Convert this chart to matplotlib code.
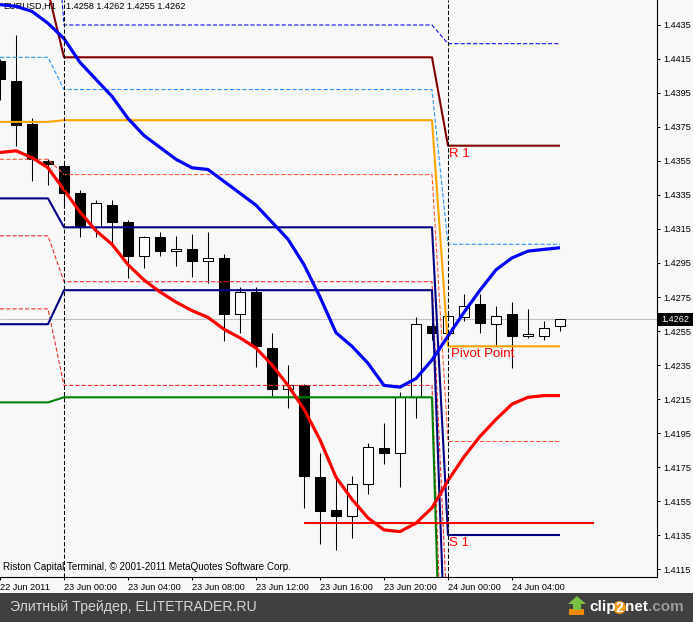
import numpy as np
import matplotlib
matplotlib.use("Agg")
import matplotlib.pyplot as plt
from matplotlib.patches import Rectangle, Polygon, Circle

plt.rcParams['font.family'] = ['Liberation Sans', 'DejaVu Sans']
plt.rcParams['lines.solid_capstyle'] = 'butt'

# ---------------- data ----------------
symbol = "EURUSD,H1"
last_ohlc = "1.4258 1.4262 1.4255 1.4262"
copyright_text = "Riston Capital Terminal, \u00a9 2001-2011 MetaQuotes Software Corp."
footer_text = "Элитный Трейдер, ELITETRADER.RU"

opens = [1.4414, 1.4402, 1.4377, 1.4355, 1.4352, 1.4336, 1.4316, 1.4329, 1.4319, 1.4299,
         1.4310, 1.4302, 1.4303, 1.4296, 1.4298, 1.4265, 1.4278, 1.4245, 1.4221, 1.4223,
         1.4169, 1.4150, 1.4146, 1.4165, 1.4186, 1.4183, 1.4216, 1.4258, 1.4254, 1.4263,
         1.4271, 1.4259, 1.4265, 1.4252, 1.4252, 1.4258]
highs = [1.4415, 1.4429, 1.4380, 1.4356, 1.4354, 1.4338, 1.4332, 1.4332, 1.4320, 1.4311,
         1.4313, 1.4311, 1.4312, 1.4313, 1.4300, 1.4281, 1.4281, 1.4254, 1.4235, 1.4224,
         1.4183, 1.4170, 1.4170, 1.4189, 1.4201, 1.4219, 1.4263, 1.4261, 1.4266, 1.4277,
         1.4277, 1.4270, 1.4272, 1.4268, 1.4261, 1.4262]
lows = [1.4391, 1.4364, 1.4343, 1.4341, 1.4328, 1.4310, 1.4310, 1.4307, 1.4286, 1.4292,
        1.4299, 1.4293, 1.4287, 1.4283, 1.4249, 1.4254, 1.4234, 1.4217, 1.4210, 1.4151,
        1.4130, 1.4126, 1.4133, 1.4159, 1.4177, 1.4163, 1.4204, 1.4250, 1.4250, 1.4261,
        1.4254, 1.4246, 1.4233, 1.4251, 1.4250, 1.4255]
closes = [1.4403, 1.4376, 1.4356, 1.4353, 1.4336, 1.4316, 1.4330, 1.4319, 1.4299, 1.4310,
          1.4302, 1.4303, 1.4296, 1.4298, 1.4265, 1.4278, 1.4246, 1.4221, 1.4223, 1.4170,
          1.4149, 1.4146, 1.4165, 1.4187, 1.4183, 1.4216, 1.4259, 1.4254, 1.4264, 1.4270,
          1.4260, 1.4264, 1.4252, 1.4253, 1.4257, 1.4262]

ma_blue = [1.4447, 1.4446, 1.4443, 1.4436, 1.4427, 1.4413, 1.4403, 1.4393, 1.4380, 1.4370,
           1.4363, 1.4356, 1.4351, 1.4350, 1.4343, 1.4336, 1.4329, 1.4319, 1.4309, 1.4294,
           1.4275, 1.4254, 1.4246, 1.4236, 1.4223, 1.4222, 1.4227, 1.4238, 1.4252, 1.4266,
           1.4279, 1.4291, 1.4298, 1.4302, 1.4303, 1.4304]
ma_red = [1.4360, 1.4361, 1.4357, 1.4351, 1.4338, 1.4325, 1.4314, 1.4306, 1.4294, 1.4285,
          1.4278, 1.4272, 1.4267, 1.4263, 1.4256, 1.4251, 1.4245, 1.4235, 1.4223, 1.4209,
          1.4191, 1.4169, 1.4156, 1.4145, 1.4138, 1.4137, 1.4142, 1.4151, 1.4167, 1.4181,
          1.4193, 1.4203, 1.4212, 1.4216, 1.4217, 1.4217]

# daily pivot levels for 22 Jun, 23 Jun, 24 Jun
day_first_bar = [0, 4, 28]
lvl_mid_top = [1.4553, 1.4435, 1.4424]
lvl_r1 = [1.4455, 1.4416, 1.4364]
lvl_mid_r = [1.4416, 1.4397, 1.4306]
lvl_pp = [1.4378, 1.4379, 1.4246]
lvl_mid_s1 = [1.4356, 1.4347, 1.4190]
lvl_s1 = [1.4333, 1.4316, 1.4135]
lvl_mid_s2 = [1.4311, 1.4284, 1.4078]
lvl_s2 = [1.4259, 1.4279, 1.4020]
lvl_mid_s3 = [1.4268, 1.4223, 1.3960]
lvl_s3 = [1.4213, 1.4216, 1.3900]

low_line_price = 1.4142
low_line_bars = [19, 37.1]
last_price = 1.4262

time_tick_bars = [0, 4, 8, 12, 16, 20, 24, 28, 32]
time_tick_labels = ["22 Jun 2011", "23 Jun 00:00", "23 Jun 04:00", "23 Jun 08:00",
                    "23 Jun 12:00", "23 Jun 16:00", "23 Jun 20:00", "24 Jun 00:00",
                    "24 Jun 04:00"]
price_ticks = [1.4435, 1.4415, 1.4395, 1.4375, 1.4355, 1.4335, 1.4315, 1.4295, 1.4275,
               1.4255, 1.4235, 1.4215, 1.4195, 1.4175, 1.4155, 1.4135, 1.4115]
price_tick_labels = ["1.4435", "1.4415", "1.4395", "1.4375", "1.4355", "1.4335", "1.4315",
                     "1.4295", "1.4275", "1.4255", "1.4235", "1.4215", "1.4195", "1.4175",
                     "1.4155", "1.4135", "1.4115"]

# ---------------- figure ----------------
W, H = 693, 622
BG = '#f8f8f8'
SMALL = 6.6
fig = plt.figure(figsize=(W / 100, H / 100), dpi=100, facecolor=BG)

deco = fig.add_axes([0, 0, 1, 1], zorder=-5)
deco.set_xlim(0, W)
deco.set_ylim(H, 0)
deco.axis('off')

ax = fig.add_axes([0, 45 / H, 657 / W, 577 / H])
ax.set_facecolor(BG)
ax.set_xlim(0, 657 / 16)
ax.set_ylim(1.41103, 1.44497)

n = len(opens)
idx = np.arange(n)
o = np.array(opens); c = np.array(closes)
hi = np.array(highs); lo = np.array(lows)

# current price line
ax.axhline(last_price, color='#c0c0c0', lw=0.75, zorder=1)

# candles
ax.vlines(idx, lo, hi, color='black', lw=0.75, zorder=2)
bull = c >= o
ax.bar(idx, np.abs(c - o), bottom=np.minimum(o, c), width=0.63,
       color=np.where(bull, 'white', 'black'), edgecolor='black', linewidth=0.75, zorder=3)

# pivot levels expanded per bar
day_of_bar = np.searchsorted(day_first_bar, idx, side='right') - 1
def per_bar(levels):
    return np.asarray(levels)[day_of_bar]

dash = (0, (4, 2))
thin = 0.75
ax.plot(idx, per_bar(lvl_mid_top), color='#0000e0', lw=thin, ls=dash, zorder=4)
ax.plot(idx, per_bar(lvl_mid_r), color='#1e90ff', lw=thin, ls=dash, zorder=4)
ax.plot(idx, per_bar(lvl_mid_s1), color='#ff5030', lw=thin, ls=dash, zorder=4)
ax.plot(idx, per_bar(lvl_mid_s2), color='#ee2020', lw=thin, ls=dash, zorder=4)
ax.plot(idx, per_bar(lvl_mid_s3), color='#ee2020', lw=thin, ls=dash, zorder=4)
ax.plot(idx, per_bar(lvl_r1), color='#800000', lw=1.5, zorder=5)
ax.plot(idx, per_bar(lvl_pp), color='#ffa500', lw=1.5, zorder=5)
ax.plot(idx, per_bar(lvl_s1), color='#000080', lw=1.5, zorder=5)
ax.plot(idx, per_bar(lvl_s2), color='#000080', lw=1.5, zorder=5)
ax.plot(idx, per_bar(lvl_s3), color='#008000', lw=1.5, zorder=5)

# moving averages
ax.plot(idx, ma_blue, color='#0000ff', lw=2.3, zorder=6)
ax.plot(idx, ma_red, color='#ff0000', lw=2.3, zorder=6)

# horizontal red line
ax.hlines(low_line_price, low_line_bars[0], low_line_bars[1], color='#ff0000', lw=1.5, zorder=6)

# day separators
for b in day_first_bar[1:]:
    ax.axvline(b, color='black', lw=0.75, ls=dash, zorder=7)

# level labels
lab_x = day_first_bar[2]
ax.annotate("R 1", (lab_x, lvl_r1[2]), xytext=(0.8, -1.5), textcoords='offset points',
            color='#ff0000', fontsize=9.5, va='top', ha='left', zorder=8)
ax.annotate("Pivot Point", (lab_x, lvl_pp[2]), xytext=(2.2, -1.5), textcoords='offset points',
            color='#ff0000', fontsize=9.5, va='top', ha='left', zorder=8)
ax.annotate("S 1", (lab_x, lvl_s1[2]), xytext=(0.8, -1.5), textcoords='offset points',
            color='#ff0000', fontsize=9.5, va='top', ha='left', zorder=8)

# header & copyright
ax.text(3 / 657, 1 - 2 / 577, symbol, transform=ax.transAxes, fontsize=SMALL,
        va='top', ha='left', color='black', zorder=5.5)
ax.text(66 / 657, 1 - 2 / 577, last_ohlc, transform=ax.transAxes, fontsize=SMALL,
        va='top', ha='left', color='black', zorder=5.5)
ax.text(3 / 657, 10 / 577, copyright_text, transform=ax.transAxes, fontsize=7.1,
        va='center', ha='left', color='black', zorder=8)

# axes styling
for s in ['top', 'left']:
    ax.spines[s].set_visible(False)
for s in ['right', 'bottom']:
    ax.spines[s].set_color('black')
    ax.spines[s].set_linewidth(0.8)

ax.yaxis.tick_right()
ax.set_yticks(price_ticks, price_tick_labels)
ax.tick_params(axis='y', length=2.5, width=0.75, pad=2, labelsize=SMALL, colors='black')
ax.set_xticks(time_tick_bars, time_tick_labels)
for t in ax.get_xticklabels():
    t.set_horizontalalignment('left')
ax.tick_params(axis='x', length=2.5, width=0.75, pad=1.5, labelsize=SMALL, colors='black')

# current price box on the price scale
deco.add_patch(Rectangle((658, 313), 35, 13, facecolor='black', edgecolor='none'))
deco.text(661, 319.5, "1.4262", color='white', fontsize=SMALL, va='center', ha='left')

# footer band
deco.add_patch(Rectangle((0, 593), W, H - 593, facecolor='#404040', edgecolor='none'))
deco.text(10, 607, footer_text, color='#d6d6d6', fontsize=10.2, va='center', ha='left')

# clip2net logo
deco.add_patch(Rectangle((569, 609), 15, 6, facecolor='#f08a00', edgecolor='none'))
deco.add_patch(Polygon([(577, 596), (586, 604), (581, 604), (581, 610), (573, 610),
                        (573, 604), (568, 604)], closed=True, facecolor='#7cc242',
                       edgecolor='none'))
deco.text(589, 607, "clip", color='white', fontsize=11, fontweight='bold', va='center', ha='left')
deco.add_patch(Circle((619.5, 607.5), 6.5, facecolor='#f39a1e', edgecolor='none'))
deco.text(619.5, 607.5, "2", color='white', fontsize=10, fontweight='bold', va='center', ha='center')
deco.text(625, 607, "net", color='white', fontsize=11, fontweight='bold', va='center', ha='left')
deco.text(648, 607, ".com", color='#9a9a9a', fontsize=11, fontweight='bold', va='center', ha='left')

fig.savefig("out.png", dpi=100, facecolor=BG)
